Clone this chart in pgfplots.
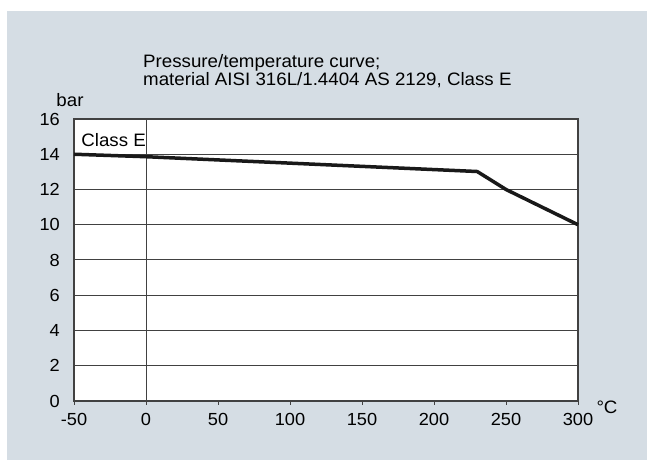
\documentclass[border=0pt]{standalone}
\usepackage{pgfplots}
\pgfplotsset{compat=1.18}
\usepackage{fontspec}
\setmainfont[FakeStretch=1.04]{Liberation Sans}
\definecolor{bgc}{RGB}{213,221,228}
\definecolor{gridc}{RGB}{65,65,65}
\begin{document}
\begin{tikzpicture}[x=1bp,y=1bp]
\fill[white] (0,0) rectangle (647,460);
\fill[bgc] (7,0) rectangle (647,449);
\fontsize{18bp}{21bp}\selectfont
\node[anchor=base west,inner sep=0] at (143,392.5) {Pressure/temperature curve;};
\node[anchor=base west,inner sep=0] at (143,374) {material AISI 316L/1.4404 AS 2129, Class E};
\begin{axis}[
  at={(74bp,59bp)}, anchor=south west,
  width=504bp, height=282bp, scale only axis,
  xmin=-50, xmax=300, ymin=0, ymax=16,
  xtick={-50,0,50,100,150,200,250,300},
  ytick={0,2,4,6,8,10,12,14,16},
  xtick pos=bottom,
  axis background/.style={fill=white},
  axis line style={draw=gridc, line width=1.2pt},
  ymajorgrids, grid style={draw=gridc, line width=1pt},
  tick align=outside, major tick length=4bp,
  xtick style={draw=gridc, line width=1pt},
  ytick style={draw=none},
  /pgf/number format/assume math mode=true,
  ticklabel style={font=\fontsize{17.5bp}{20bp}\selectfont},
  xticklabel style={yshift=-2bp},
  yticklabel style={xshift=-4bp},
  clip=false,
]
\draw[gridc, line width=1pt] (axis cs:0,0) -- (axis cs:0,16);
\addplot[color=black!90, line width=3.5bp, line join=miter] coordinates {
  (-50,14) (0,13.86) (230,13.02) (250,12) (300,10)
};
\node[font=\fontsize{18bp}{21bp}\selectfont, inner sep=0] at (axis cs:-22.5,14.8) {Class E};
\end{axis}
\node[anchor=center] at (70,360) {bar};
\node[anchor=center] at (607,53) {°C};
\end{tikzpicture}
\end{document}
